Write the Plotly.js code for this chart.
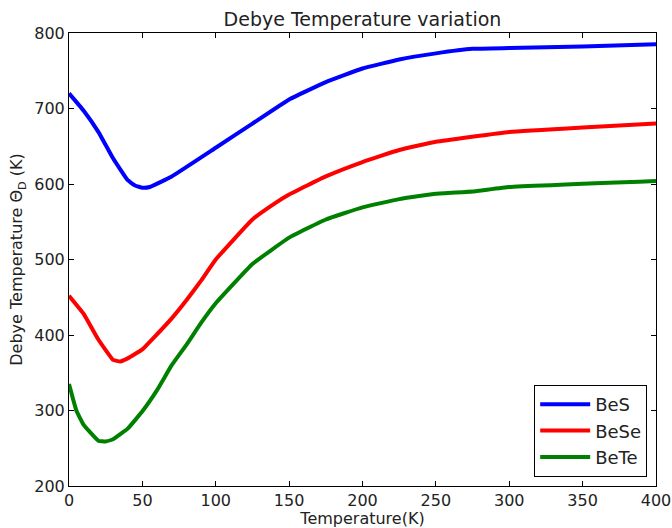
<!DOCTYPE html>
<html><head><meta charset="utf-8">
<script src="https://cdn.plot.ly/plotly-3.0.1.min.js"></script>
<style>html,body{margin:0;padding:0;background:#fff}#chart{width:672px;height:528px}</style>
</head><body><div id="chart"></div>
<script>
const tBeS = [0, 10, 20, 30, 40, 45, 50, 55, 70, 100, 125, 150, 175, 200, 225, 250, 275, 300, 350, 400];
const vBeS = [720, 697, 669, 634, 605, 598, 595, 596, 610, 648, 680, 712, 735, 753, 765, 773, 779, 780, 782, 785];
const tBeSe = [0, 5, 10, 20, 30, 35, 40, 50, 60, 70, 80, 90, 100, 125, 140, 150, 175, 200, 225, 250, 300, 350, 400];
const vBeSe = [452, 440, 428, 394, 367, 365, 369, 381, 401, 422, 446, 472, 500, 553, 574, 586, 610, 629, 645, 656, 669, 675, 680];
const tBeTe = [0, 5, 10, 20, 25, 30, 40, 50, 60, 70, 80, 90, 100, 125, 150, 175, 200, 225, 250, 275, 300, 400];
const vBeTe = [335, 300, 281, 260, 259, 262, 276, 299, 327, 360, 387, 416, 442, 494, 529, 553, 569, 580, 587, 590, 596, 604];
const names = ['BeS', 'BeSe', 'BeTe'];
const colors = ['#0000ff', '#ff0000', '#008000'];
const xs = [tBeS, tBeSe, tBeTe], ys = [vBeS, vBeSe, vBeTe];
const FONT = 'DejaVu Sans, sans-serif';
const traces = names.map((n, i) => ({
  x: xs[i], y: ys[i], name: n, type: 'scatter', mode: 'lines',
  line: {color: colors[i], width: 4, shape: 'spline', smoothing: 0.3}
}));
const axBase = {
  showgrid: false, zeroline: false, showline: true, linecolor: '#000', linewidth: 1,
  mirror: 'allticks', ticks: 'inside', ticklen: 5, tickcolor: '#000', tickwidth: 1,
  tickfont: {family: FONT, size: 16, color: '#222'}
};
const layout = {
  width: 672, height: 528,
  margin: {l: 69, r: 16, t: 33, b: 42},
  paper_bgcolor: '#fff', plot_bgcolor: '#fff',
  font: {family: FONT, color: '#222'},
  title: {text: 'Debye Temperature variation', font: {family: FONT, size: 19, color: '#222'}, xref: 'paper', x: 0.5, xanchor: 'center', y: 0.964, yanchor: 'middle'},
  xaxis: Object.assign({}, axBase, {range: [0, 400], tickvals: [0, 50, 100, 150, 200, 250, 300, 350, 400],
    title: {text: 'Temperature(K)', font: {family: FONT, size: 16, color: '#222'}, standoff: 11}}),
  yaxis: Object.assign({}, axBase, {range: [200, 800], tickvals: [200, 300, 400, 500, 600, 700, 800],
    title: {text: 'Debye Temperature Θ<sub>D</sub> (K)', font: {family: FONT, size: 16, color: '#222'}, standoff: 7}}),
  showlegend: true,
  legend: {x: 0.985, xanchor: 'right', y: 0.02, yanchor: 'bottom', bordercolor: '#000', borderwidth: 1,
    bgcolor: '#fff', font: {family: FONT, size: 18, color: '#222'}, tracegroupgap: 0, itemwidth: 50}
};
Plotly.newPlot('chart', traces, layout, {displayModeBar: false, staticPlot: true});
</script></body></html>
